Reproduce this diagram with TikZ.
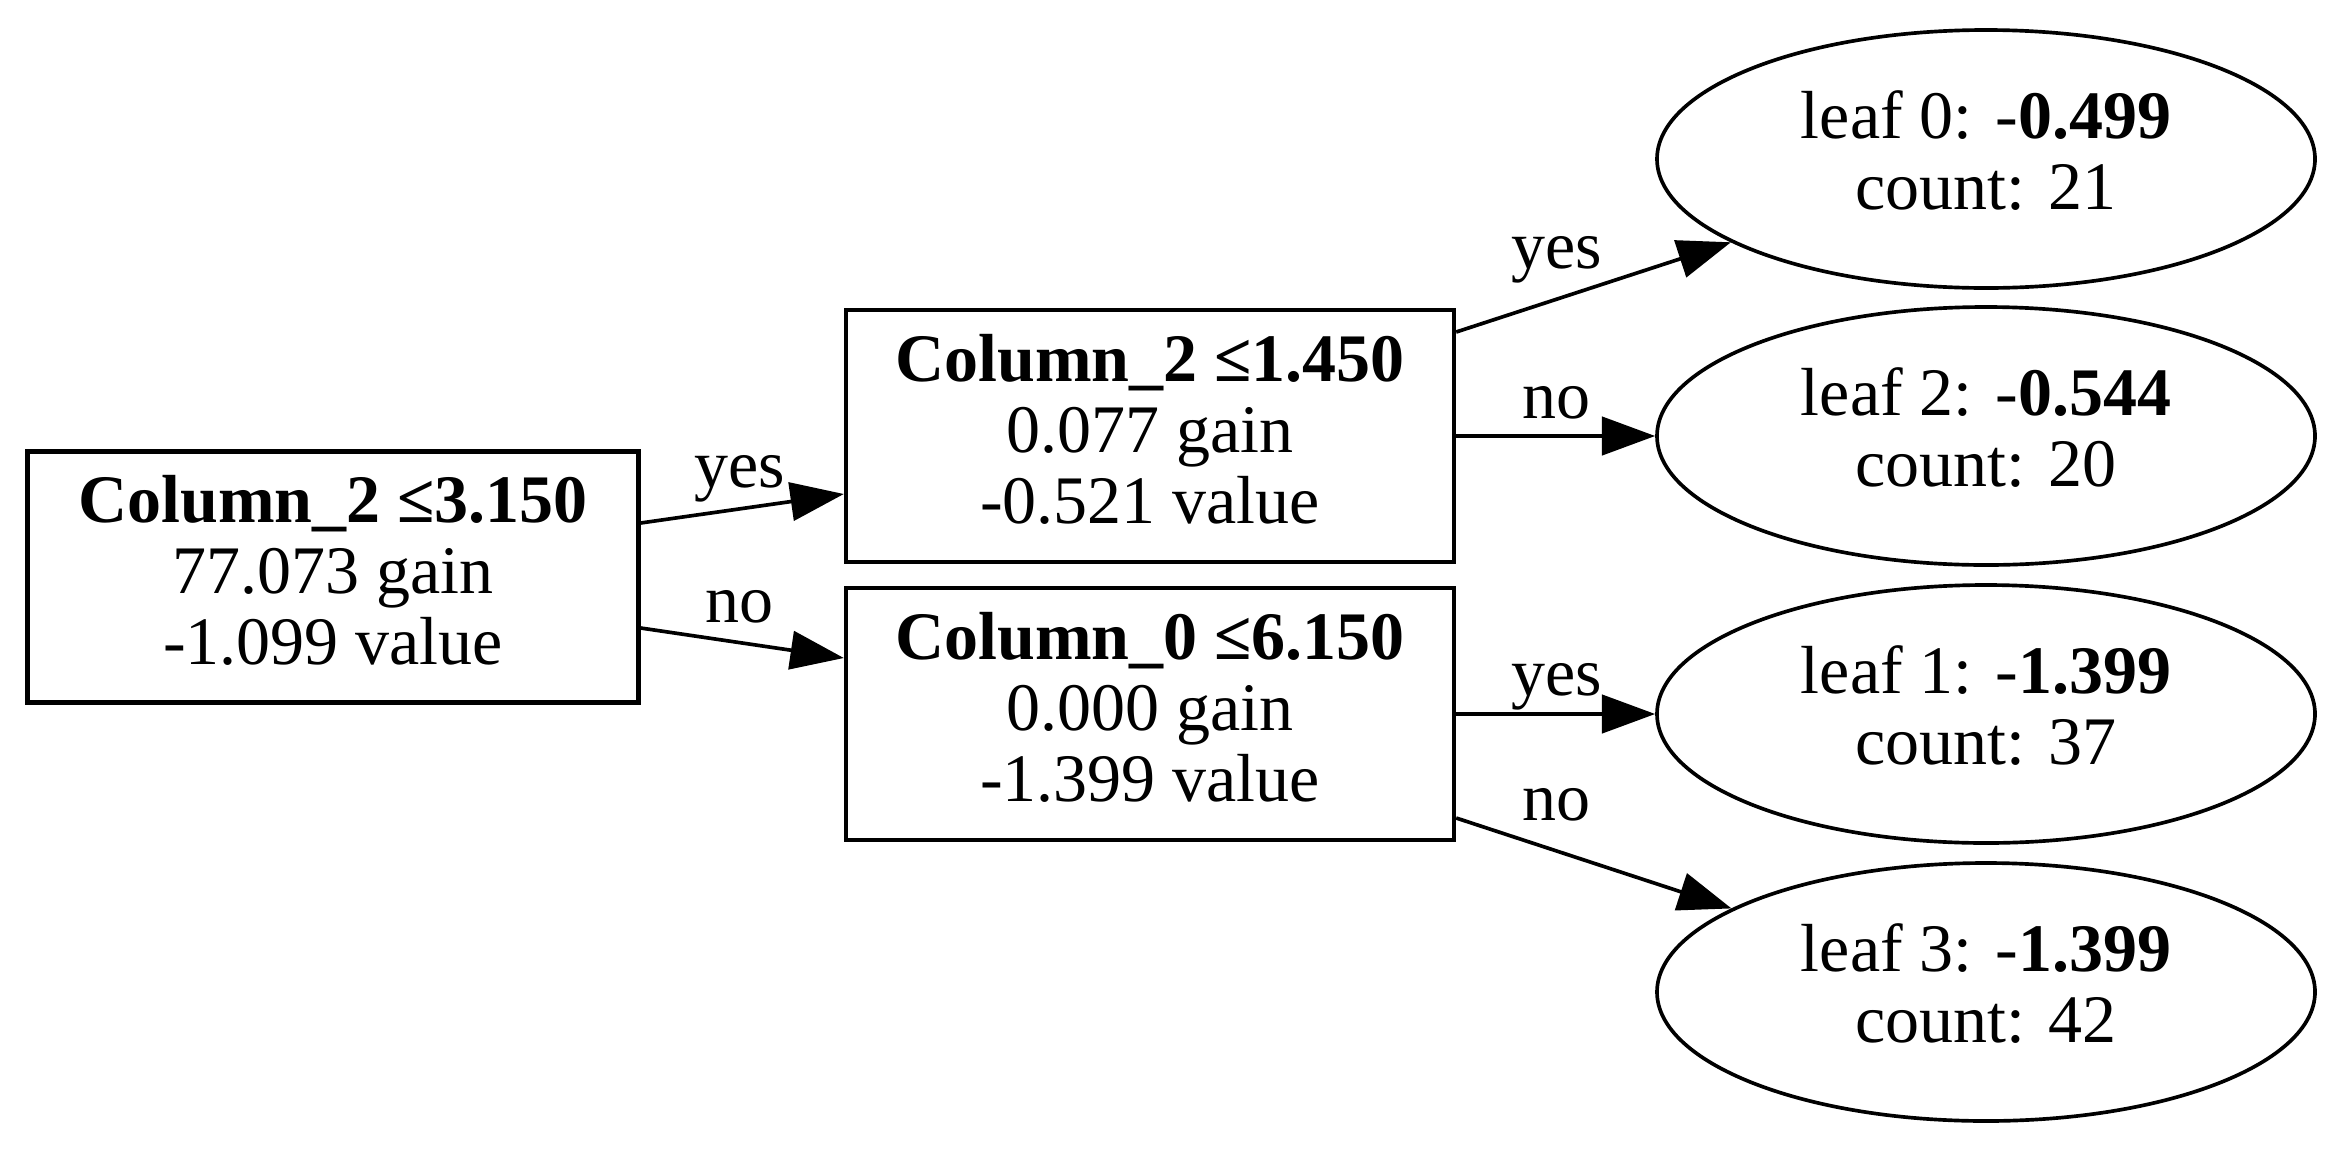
\documentclass[tikz,border=0pt]{standalone}
\usepackage{fontspec}
\setmainfont{Liberation Serif}
\usetikzlibrary{arrows.meta,shapes.geometric}
\newcommand{\boxdep}{\rule[-4.5pt]{0pt}{0pt}}
\newcommand{\leafdep}{\rule[-5.4pt]{0pt}{0pt}}
\begin{document}
\begin{tikzpicture}[x=0.3pt,y=-0.3pt,
  txt/.style={font=\fontsize{20.4}{21.3}\selectfont},
  box/.style={txt, draw=black, line width=1.3pt, rectangle, minimum width=182.4pt, minimum height=75.6pt, align=center, inner sep=0pt},
  leaf/.style={txt, draw=black, line width=1.1pt, ellipse, minimum width=197.4pt, minimum height=77.4pt, inner sep=0pt, align=center},
  edge/.style={line width=1.1pt, -{Triangle[length=16pt,width=11.5pt]}},
  lbl/.style={txt, inner sep=0pt, anchor=base}]
\useasboundingbox (0,0) rectangle (2345,1155);
\fill[white] (0,0) rectangle (2345,1155);
\node[box, minimum width=183.3pt, minimum height=75.3pt] (root) at (333,577) {\textbf{Column\_2 ≤3.150}\\77.073 gain\\-1.099 value\boxdep};
\node[box] (m1) at (1150,436) {\textbf{Column\_2 ≤1.450}\\0.077 gain\\-0.521 value\boxdep};
\node[box] (m2) at (1150,714) {\textbf{Column\_0 ≤6.150}\\0.000 gain\\-1.399 value\boxdep};
\node[leaf] (l0) at (1986,159) {leaf 0: -\textbf{0.499}\\count: 21\leafdep};
\node[leaf] (l2) at (1986,436) {leaf 2: -\textbf{0.544}\\count: 20\leafdep};
\node[leaf] (l1) at (1986,714) {leaf 1: -\textbf{1.399}\\count: 37\leafdep};
\node[leaf] (l3) at (1986,992) {leaf 3: -\textbf{1.399}\\count: 42\leafdep};
\draw[edge] ([yshift=16.2pt]root.east) -- ([yshift=-17.4pt]m1.west);
\draw[edge] ([yshift=-15.3pt]root.east) -- ([yshift=16.8pt]m2.west);
\draw[edge] ([yshift=31.2pt]m1.east) -- (l0);
\draw[edge] (m1.east) -- (l2);
\draw[edge] (m2.east) -- (l1);
\draw[edge] ([yshift=-31.2pt]m2.east) -- (l3);
\node[lbl] (ly1) at (740,487) {yes};
\node[lbl] (ln1) at (739,622) {no};
\node[lbl] (ly2) at (1557,268) {yes};
\node[lbl] (ln2) at (1556,418) {no};
\node[lbl] (ly3) at (1557,695) {yes};
\node[lbl] (ln3) at (1556,820) {no};
\end{tikzpicture}
\end{document}
